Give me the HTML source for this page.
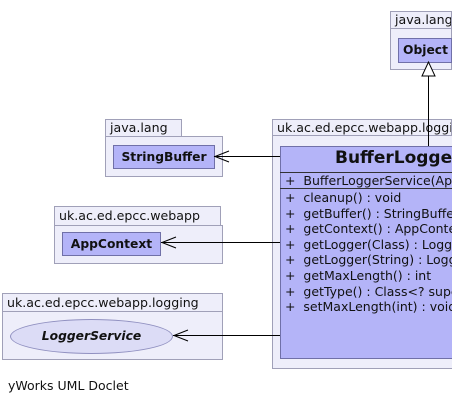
<!DOCTYPE html>
<html><head><style>
html,body{margin:0;width:452px;height:405px;overflow:hidden}
body{background:#fff;position:relative;font-family:"DejaVu Sans","Liberation Sans",sans-serif;}
.a{position:absolute;box-sizing:border-box;}
.tab{background:#eeeefa;border:1px solid #a0a0b8;font-size:12.6px;color:#111;padding-left:4px;line-height:16px;white-space:nowrap;overflow:hidden}
.pk{background:#eeeefa;border:1px solid #a0a0b8;}
.cls{background:#b4b4f8;border:1px solid #7070a8;font-weight:bold;font-size:12.3px;text-align:center;color:#111;white-space:nowrap;overflow:hidden}
.t{position:absolute;font-size:12.5px;white-space:nowrap;color:#111}
</style></head><body>
<!-- Object -->
<div class="a tab" style="left:390px;top:11px;width:62px;height:18px;">java.lang</div>
<div class="a pk" style="left:390px;top:28px;width:62px;height:42px;"></div>
<div class="a cls" style="left:398px;top:38px;width:54px;height:25px;line-height:23px;text-align:left;padding-left:4px">Object</div>
<!-- big package -->
<div class="a tab" style="left:272px;top:119px;width:180px;height:17px;">uk.ac.ed.epcc.webapp.logging</div>
<div class="a pk" style="left:272px;top:135px;width:180px;height:234px;border-right:none"></div>
<div class="a" style="left:280px;top:146px;width:172px;height:213px;background:#b4b4f8;border:1px solid #7070a8;border-right:none"></div>
<div class="a" style="left:280px;top:146px;width:172px;height:26px;overflow:hidden"><div class="t" style="left:55px;top:2px;font-size:17px;font-weight:bold;">BufferLogger</div></div>
<div class="a" style="left:280px;top:172px;width:172px;height:1px;background:#333"></div>
<div class="a" style="left:280px;top:188px;width:172px;height:1px;background:#333"></div>
<div class="a" style="left:280px;top:172px;width:172px;height:150px;overflow:hidden">
<div class="t" style="left:5px;top:1px;">+ &nbsp;BufferLoggerService(AppContext)</div>
<div class="t" style="left:5px;top:18px;line-height:15.6px">+ &nbsp;cleanup() : void<br>+ &nbsp;getBuffer() : StringBuffer<br>+ &nbsp;getContext() : AppContext<br>+ &nbsp;getLogger(Class) : Logger<br>+ &nbsp;getLogger(String) : Logger<br>+ &nbsp;getMaxLength() : int<br>+ &nbsp;getType() : Class&lt;? super<br>+ &nbsp;setMaxLength(int) : void</div>
</div>
<!-- StringBuffer -->
<div class="a tab" style="left:105px;top:119px;width:77px;height:18px;">java.lang</div>
<div class="a pk" style="left:105px;top:136px;width:118px;height:41px;"></div>
<div class="a cls" style="left:113px;top:145px;width:102px;height:24px;line-height:22px">StringBuffer</div>
<!-- AppContext -->
<div class="a tab" style="left:54px;top:206px;width:167px;height:20px;line-height:18px">uk.ac.ed.epcc.webapp</div>
<div class="a pk" style="left:54px;top:225px;width:169px;height:39px;"></div>
<div class="a cls" style="left:62px;top:232px;width:99px;height:24px;line-height:22px">AppContext</div>
<!-- LoggerService -->
<div class="a tab" style="left:2px;top:293px;width:221px;height:19px;line-height:17px">uk.ac.ed.epcc.webapp.logging</div>
<div class="a pk" style="left:2px;top:311px;width:221px;height:49px;"></div>
<div class="a" style="left:10px;top:319px;width:163px;height:35px;border-radius:50%;background:#dcdcf6;border:1px solid #9090c0;font-weight:bold;font-style:italic;font-size:12.3px;text-align:center;line-height:33px;color:#111">LoggerService</div>
<div class="t" style="left:8px;top:378px;">yWorks UML Doclet</div>
<svg class="a" style="left:0;top:0" width="452" height="405">
<g stroke="#000" stroke-width="1" fill="none">
<line x1="428.5" y1="76" x2="428.5" y2="146"/>
<polygon points="428.5,62 422,76 435,76" fill="#fff"/>
<line x1="214" y1="156.5" x2="280" y2="156.5"/><polyline points="229,151 215,156.5 229,162"/>
<line x1="161" y1="242.5" x2="280" y2="242.5"/><polyline points="176,237 162,242.5 176,248"/>
<line x1="173" y1="335.5" x2="280" y2="335.5"/><polyline points="188,330 174,335.5 188,341"/>
</g></svg>
</body></html>
